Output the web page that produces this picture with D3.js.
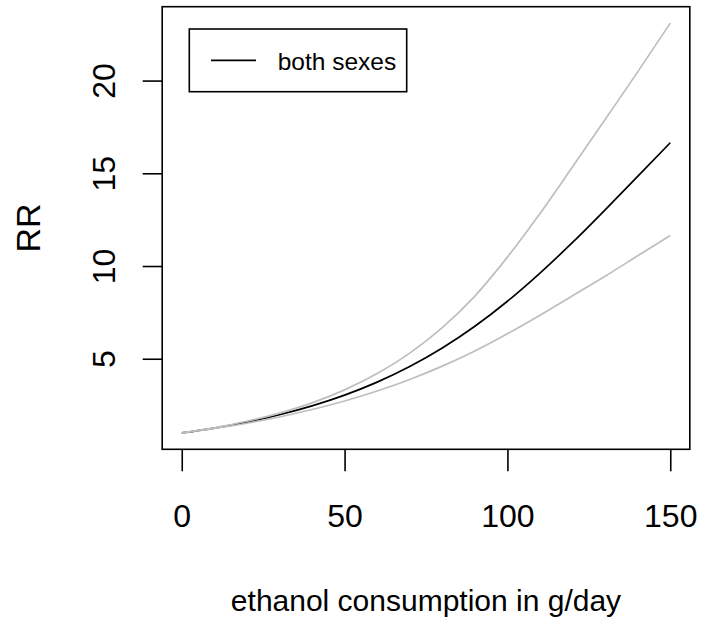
<!DOCTYPE html>
<html>
<head>
<meta charset="utf-8">
<script src="https://cdn.jsdelivr.net/npm/d3@7"></script>
<style>
  html, body { margin: 0; padding: 0; background: #fff; }
  svg { display: block; font-family: "Liberation Sans", Arial, sans-serif; }
</style>
</head>
<body>
<svg id="chart" width="701" height="619"></svg>
<script>
// ---- data ----
const consumption = [0, 10, 20, 30, 40, 50, 60, 70, 80, 90, 100, 110, 120, 130, 140, 150];
const rrBoth  = [1.00, 1.26, 1.58, 1.98, 2.46, 3.04, 3.74, 4.58, 5.58, 6.75, 8.10, 9.62, 11.27, 13.03, 14.83, 16.65];
const rrUpper = [1.00, 1.28, 1.63, 2.07, 2.62, 3.32, 4.20, 5.30, 6.68, 8.38, 10.48, 12.83, 15.35, 17.90, 20.47, 23.1];
const rrLower = [1.00, 1.24, 1.52, 1.86, 2.26, 2.72, 3.26, 3.88, 4.60, 5.42, 6.35, 7.35, 8.40, 9.45, 10.55, 11.65];
const xTicks = [0, 50, 100, 150];
const yTicks = [5, 10, 15, 20];
const xTitle = "ethanol consumption in g/day";
const yTitle = "RR";
const legendLabel = "both sexes";

// ---- layout ----
const box = { left: 162.2, right: 689.8, top: 6.7, bottom: 449.3 };
const svg = d3.select("#chart");

function padded(ext) { const r = ext[1] - ext[0]; return [ext[0] - 0.04 * r, ext[1] + 0.04 * r]; }
const xExt = d3.extent(consumption);
const allY = rrLower.concat(rrBoth, rrUpper);
const yExt = [d3.min(allY), d3.max(allY)];

const x = d3.scaleLinear().domain(padded(xExt)).range([box.left, box.right]);
const y = d3.scaleLinear().domain(padded(yExt)).range([box.bottom, box.top]);

const line = d3.line().x(d => x(d[0])).y(d => y(d[1])).curve(d3.curveMonotoneX);

// series
svg.append("path").datum(consumption.map((c, i) => [c, rrBoth[i]]))
  .attr("d", line).attr("fill", "none").attr("stroke", "#000").attr("stroke-width", 1.7);
[rrUpper, rrLower].forEach(s => {
  svg.append("path").datum(consumption.map((c, i) => [c, s[i]]))
    .attr("d", line).attr("fill", "none").attr("stroke", "#bebebe").attr("stroke-width", 1.7);
});

// box
svg.append("rect")
  .attr("x", box.left).attr("y", box.top)
  .attr("width", box.right - box.left).attr("height", box.bottom - box.top)
  .attr("fill", "none").attr("stroke", "#000").attr("stroke-width", 1.6);

// x axis
const xAxis = d3.axisBottom(x).tickValues(xTicks).tickSize(22).tickPadding(0).tickFormat(d3.format("d"));
const gx = svg.append("g").attr("transform", `translate(0,${box.bottom})`).call(xAxis);
gx.select(".domain").remove();
gx.selectAll(".tick line").attr("stroke", "#000").attr("stroke-width", 1.6);
gx.selectAll(".tick text").attr("fill", "#000").attr("font-size", 32)
  .attr("font-family", "Liberation Sans, Arial, sans-serif")
  .attr("dy", null).attr("y", 78);

// y axis
const yAxis = d3.axisLeft(y).tickValues(yTicks).tickSize(19.5).tickPadding(0).tickFormat(d3.format("d"));
const gy = svg.append("g").attr("transform", `translate(${box.left},0)`).call(yAxis);
gy.select(".domain").remove();
gy.selectAll(".tick line").attr("stroke", "#000").attr("stroke-width", 1.6);
gy.selectAll(".tick text").attr("fill", "#000").attr("font-size", 32)
  .attr("font-family", "Liberation Sans, Arial, sans-serif")
  .attr("x", null).attr("dy", null)
  .attr("text-anchor", "middle")
  .attr("transform", "translate(-58,0) rotate(-90) translate(0,11)");

// titles
svg.append("text").attr("x", (box.left + box.right) / 2).attr("y", 611)
  .attr("text-anchor", "middle").attr("font-size", 30).attr("fill", "#000").text(xTitle);
svg.append("text").attr("transform", `translate(40,${(box.top + box.bottom) / 2}) rotate(-90)`)
  .attr("text-anchor", "middle").attr("font-size", 34).attr("fill", "#000").text(yTitle);

// legend
const lg = svg.append("g");
lg.append("rect").attr("x", 189.3).attr("y", 29).attr("width", 217.4).attr("height", 62.7)
  .attr("fill", "#fff").attr("stroke", "#000").attr("stroke-width", 1.6);
lg.append("line").attr("x1", 211).attr("x2", 256).attr("y1", 60.3).attr("y2", 60.3)
  .attr("stroke", "#000").attr("stroke-width", 1.7);
lg.append("text").attr("x", 277.7).attr("y", 70).attr("font-size", 24.5).attr("fill", "#000").text(legendLabel);
</script>
</body>
</html>
